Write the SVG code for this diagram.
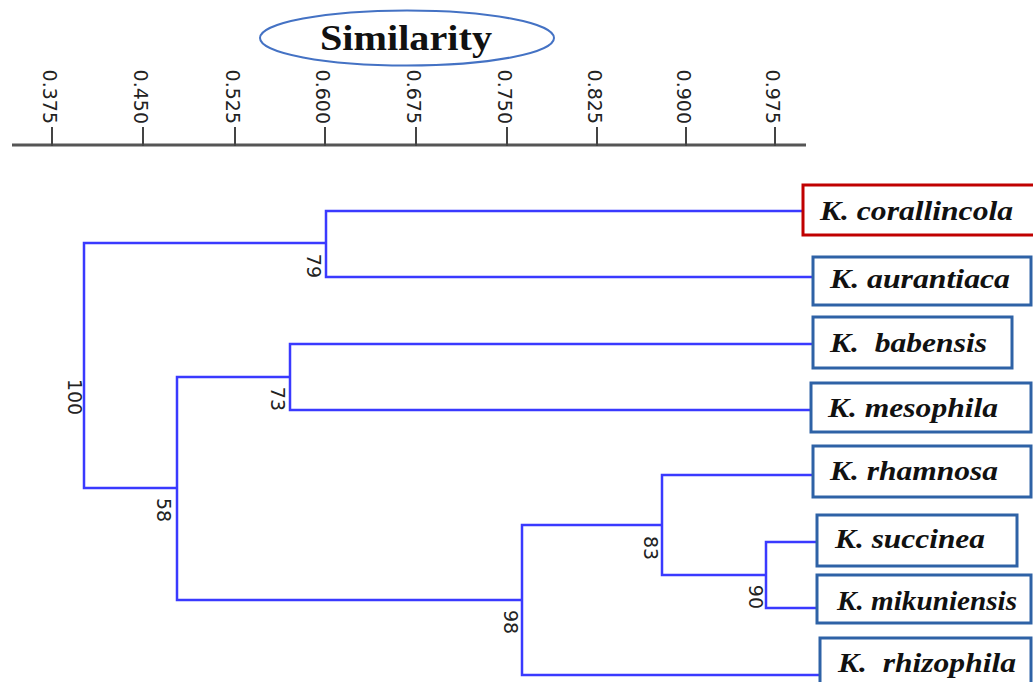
<svg xmlns="http://www.w3.org/2000/svg" width="1033" height="682" viewBox="0 0 1033 682">
<style>
.ax{font-family:"DejaVu Sans",Verdana,sans-serif;font-size:19px;fill:#222}
.tick{stroke:#444;stroke-width:2}
.br{fill:none;stroke:#3a3aff;stroke-width:2.5}
.bs{font-family:"DejaVu Sans",Verdana,sans-serif;font-size:19px;fill:#222}
.box{fill:#fff;stroke:#2e62a6;stroke-width:3}
.red{stroke:#c00000}
.lbl{font-family:"Liberation Serif","Times New Roman",serif;font-weight:bold;font-style:italic;font-size:27px;fill:#111}
</style>
<rect width="1033" height="682" fill="#fff"/>
<g id="title">
<ellipse cx="407" cy="38" rx="147" ry="27.5" fill="#fff" stroke="#4472c4" stroke-width="2"/>
<text x="320" y="50" textLength="172" lengthAdjust="spacingAndGlyphs" style="font-family:'Liberation Serif','Times New Roman',serif;font-weight:bold;font-size:35px;fill:#111">Similarity</text>
</g>
<g id="axis">
<line x1="12" y1="145" x2="806" y2="145" stroke="#555" stroke-width="3"/>
<line class="tick" x1="52" y1="127" x2="52" y2="146"/>
<line class="tick" x1="143" y1="127" x2="143" y2="146"/>
<line class="tick" x1="235" y1="127" x2="235" y2="146"/>
<line class="tick" x1="325" y1="127" x2="325" y2="146"/>
<line class="tick" x1="416" y1="127" x2="416" y2="146"/>
<line class="tick" x1="507" y1="127" x2="507" y2="146"/>
<line class="tick" x1="597" y1="127" x2="597" y2="146"/>
<line class="tick" x1="686" y1="127" x2="686" y2="146"/>
<line class="tick" x1="775" y1="127" x2="775" y2="146"/>
<text class="ax" text-anchor="end" transform="translate(43,124) rotate(90)">0.375</text>
<text class="ax" text-anchor="end" transform="translate(134,124) rotate(90)">0.450</text>
<text class="ax" text-anchor="end" transform="translate(226,124) rotate(90)">0.525</text>
<text class="ax" text-anchor="end" transform="translate(316,124) rotate(90)">0.600</text>
<text class="ax" text-anchor="end" transform="translate(407,124) rotate(90)">0.675</text>
<text class="ax" text-anchor="end" transform="translate(498,124) rotate(90)">0.750</text>
<text class="ax" text-anchor="end" transform="translate(588,124) rotate(90)">0.825</text>
<text class="ax" text-anchor="end" transform="translate(677,124) rotate(90)">0.900</text>
<text class="ax" text-anchor="end" transform="translate(766,124) rotate(90)">0.975</text>
</g>
<g id="connectors">
<path class="br" d="M803,211 H326 V277 H813"/>
<path class="br" d="M326,243 H84 V488 H177"/>
<path class="br" d="M813,344 H290 V410 H811"/>
<path class="br" d="M290,377 H177 V600 H522"/>
<path class="br" d="M820,675 H522 V525 H662"/>
<path class="br" d="M813,475 H662 V575 H766"/>
<path class="br" d="M817,542 H766 V608 H817"/>
<text class="bs" text-anchor="end" transform="translate(307,278) rotate(90)">79</text>
<text class="bs" text-anchor="middle" transform="translate(68,397) rotate(90)">100</text>
<text class="bs" text-anchor="end" transform="translate(271,411) rotate(90)">73</text>
<text class="bs" transform="translate(157,498) rotate(90)">58</text>
<text class="bs" transform="translate(504,610) rotate(90)">98</text>
<text class="bs" transform="translate(644,536) rotate(90)">83</text>
<text class="bs" text-anchor="end" transform="translate(749,609) rotate(90)">90</text>
</g>
<g id="n-corallincola">
<rect class="box red" x="803" y="185" width="240" height="50"/>
<text class="lbl" x="820" y="220" textLength="193" lengthAdjust="spacingAndGlyphs">K. corallincola</text>
</g>
<g id="n-aurantiaca">
<rect class="box" x="813" y="257" width="218" height="48"/>
<text class="lbl" x="830" y="288" textLength="180" lengthAdjust="spacingAndGlyphs">K. aurantiaca</text>
</g>
<g id="n-babensis">
<rect class="box" x="813" y="317" width="199" height="51"/>
<text class="lbl" x="830" y="352" textLength="157" lengthAdjust="spacingAndGlyphs" xml:space="preserve">K.  babensis</text>
</g>
<g id="n-mesophila">
<rect class="box" x="811" y="383" width="220" height="49"/>
<text class="lbl" x="828" y="417" textLength="170" lengthAdjust="spacingAndGlyphs">K. mesophila</text>
</g>
<g id="n-rhamnosa">
<rect class="box" x="813" y="446" width="218" height="51"/>
<text class="lbl" x="830" y="480" textLength="168" lengthAdjust="spacingAndGlyphs">K. rhamnosa</text>
</g>
<g id="n-succinea">
<rect class="box" x="817" y="515" width="200" height="51"/>
<text class="lbl" x="835" y="548" textLength="150" lengthAdjust="spacingAndGlyphs">K. succinea</text>
</g>
<g id="n-mikuniensis">
<rect class="box" x="817" y="575" width="214" height="48"/>
<text class="lbl" x="837" y="610" textLength="180" lengthAdjust="spacingAndGlyphs">K. mikuniensis</text>
</g>
<g id="n-rhizophila">
<rect class="box" x="820" y="638" width="211" height="60"/>
<text class="lbl" x="838" y="672" textLength="178" lengthAdjust="spacingAndGlyphs" xml:space="preserve">K.  rhizophila</text>
</g>
</svg>
